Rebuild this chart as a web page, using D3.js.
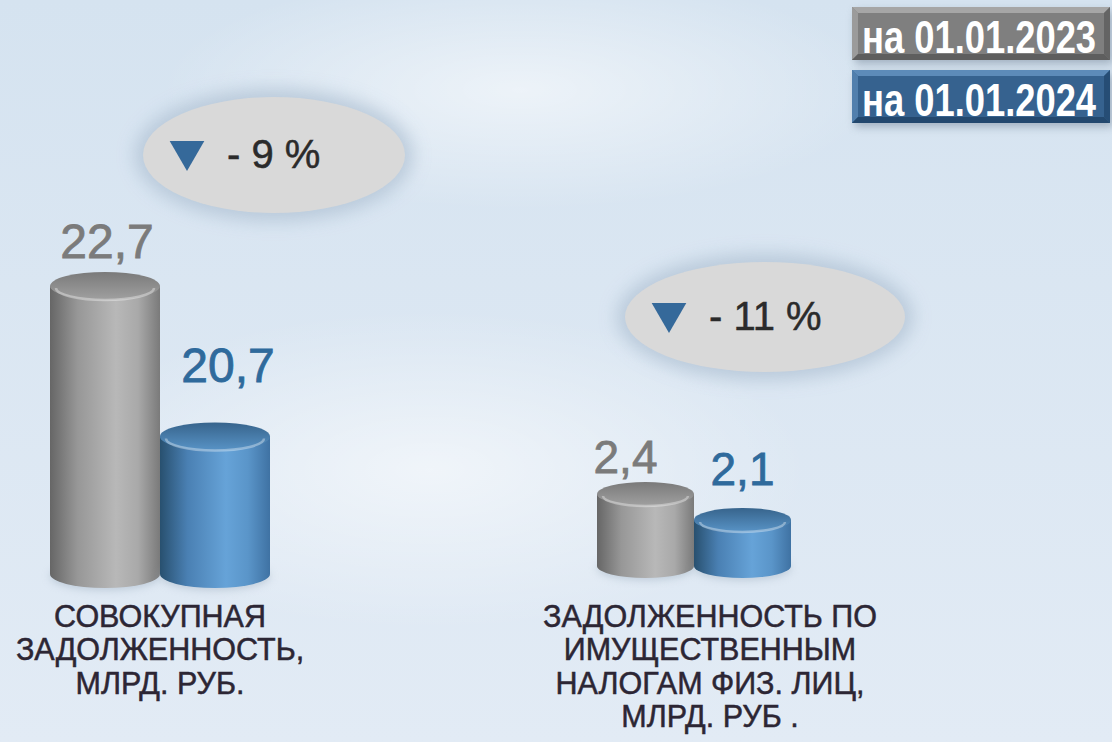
<!DOCTYPE html>
<html lang="ru">
<head>
  <meta charset="UTF-8">
  <title>Задолженность</title>
  <script src="https://d3js.org/d3.v7.min.js"></script>
</head>
<style>
  body { margin: 0; overflow: hidden; }
  text { font-family: "Liberation Sans", Arial, sans-serif; }
</style>
<body>
<svg id="chart" width="1112" height="742"></svg>

<script>
  // values
  const categories = [
    ["СОВОКУПНАЯ", "ЗАДОЛЖЕННОСТЬ,", "МЛРД. РУБ."],
    ["ЗАДОЛЖЕННОСТЬ ПО", "ИМУЩЕСТВЕННЫМ", "НАЛОГАМ ФИЗ. ЛИЦ,", "МЛРД. РУБ ."]
  ];
  const seriesNames = ["на 01.01.2023", "на 01.01.2024"];
  const values2023 = [22.7, 2.4];
  const values2024 = [20.7, 2.1];
  const changeLabels = ["- 9 %", "- 11 %"];
  // each group has its own truncated value axis
  const axisFloor = [18.5, 1.29];

  const width = 1112, height = 742;
  const svg = d3.select("#chart");
  const defs = svg.append("defs");

  // layout of the two groups
  const groups = [
    {cx: 160, half: 110, base: 588, top: 272, ry: 14, font: 48,
     bubble: {cx: 274, cy: 155, rx: 131, ry: 58},
     nudge: [[2, -14], [13, -40]], labelX: 160, labelY: 627},
    {cx: 694, half: 97, base: 578, top: 482, ry: 12, font: 46,
     bubble: {cx: 765, cy: 317, rx: 140, ry: 55},
     nudge: [[-20, -9], [0, -23]], labelX: 710, labelY: 627}
  ];

  // background
  let bg = defs.append("linearGradient").attr("id", "bg").attr("x1", 0).attr("y1", 0).attr("x2", 0).attr("y2", 1);
  bg.append("stop").attr("offset", "0%").attr("stop-color", "#d5e3f0");
  bg.append("stop").attr("offset", "100%").attr("stop-color", "#e2ebf5");
  let glow = defs.append("radialGradient").attr("id", "glow");
  glow.append("stop").attr("offset", "0%").attr("stop-color", "#ffffff").attr("stop-opacity", 0.55);
  glow.append("stop").attr("offset", "100%").attr("stop-color", "#ffffff").attr("stop-opacity", 0);
  svg.append("rect").attr("width", width).attr("height", height).attr("fill", "url(#bg)");
  svg.append("ellipse").attr("cx", 520).attr("cy", 90).attr("rx", 360).attr("ry", 120).attr("fill", "url(#glow)");
  svg.append("ellipse").attr("cx", 430).attr("cy", 470).attr("rx", 380).attr("ry", 160).attr("fill", "url(#glow)");

  // gradients for cylinders
  const palette = [
    {body: ["#666666", "#979797", "#b8b8b8", "#a9a9a9", "#7a7a7a"], cap: ["#7a7a7a", "#a0a0a0"], label: "#7b7b7b"},
    {body: ["#28506f", "#4a80b3", "#66a3d8", "#5a95c9", "#3f72a3"], cap: ["#37648c", "#5893c6"], label: "#2f6a9c"}
  ];
  palette.forEach((p, i) => {
    let g = defs.append("linearGradient").attr("id", "body" + i);
    [0, 25, 60, 80, 100].forEach((o, k) => g.append("stop").attr("offset", o + "%").attr("stop-color", p.body[k]));
    let c = defs.append("linearGradient").attr("id", "cap" + i).attr("x1", 0).attr("y1", 0).attr("x2", 0).attr("y2", 1);
    c.append("stop").attr("offset", "0%").attr("stop-color", p.cap[0]);
    c.append("stop").attr("offset", "100%").attr("stop-color", p.cap[1]);
  });

  let blur = defs.append("filter").attr("id", "blur").attr("x", "-30%").attr("y", "-50%").attr("width", "160%").attr("height", "200%");
  blur.append("feGaussianBlur").attr("stdDeviation", 9);
  let soft = defs.append("filter").attr("id", "soft").attr("x", "-30%").attr("y", "-30%").attr("width", "160%").attr("height", "160%");
  soft.append("feGaussianBlur").attr("stdDeviation", 4);

  // percent bubbles
  groups.forEach((g, i) => {
    let b = g.bubble;
    let bub = svg.append("g");
    bub.append("ellipse").attr("cx", b.cx).attr("cy", b.cy).attr("rx", b.rx + 8).attr("ry", b.ry + 8)
      .attr("fill", "#b3c4d6").attr("opacity", 0.85).attr("filter", "url(#blur)");
    bub.append("ellipse").attr("cx", b.cx).attr("cy", b.cy).attr("rx", b.rx).attr("ry", b.ry).attr("fill", "#d9d9d9");
    let tx = b.cx - b.rx + 28, ty = b.cy - 12;
    bub.append("path")
      .attr("d", d3.symbol().type(d3.symbolTriangle).size(520)())
      .attr("transform", `translate(${tx + 16},${ty + 8}) rotate(180)`)
      .attr("fill", "#35699a");
    bub.append("text").attr("x", tx + 56).attr("y", b.cy + 13)
      .attr("font-size", 40).attr("fill", "#2b2b2b")
      .attr("stroke", "#2b2b2b").attr("stroke-width", 0.5)
      .text(changeLabels[i]);
  });

  // cylinders
  groups.forEach((g, i) => {
    let y = d3.scaleLinear().domain([axisFloor[i], values2023[i]]).range([g.base, g.top]);
    let x = d3.scaleBand().domain(seriesNames).range([g.cx - g.half, g.cx + g.half]).padding(0);
    let vals = [values2023[i], values2024[i]];
    let ry = g.ry;
    vals.forEach((v, s) => {
      let x0 = x(seriesNames[s]), w = x.bandwidth(), rx = w / 2, mx = x0 + rx;
      let yt = y(v) + ry, yb = g.base - ry;
      let cyl = svg.append("g");
      cyl.append("ellipse").attr("cx", mx).attr("cy", yb + 2).attr("rx", rx).attr("ry", ry)
        .attr("fill", "#9aaabb").attr("opacity", 0.5).attr("filter", "url(#soft)");
      cyl.append("path")
        .attr("d", `M${x0},${yt} L${x0},${yb} A${rx},${ry} 0 0 0 ${x0 + w},${yb} L${x0 + w},${yt} Z`)
        .attr("fill", `url(#body${s})`);
      cyl.append("ellipse").attr("cx", mx).attr("cy", yt).attr("rx", rx).attr("ry", ry)
        .attr("fill", `url(#cap${s})`);
      // rim highlight
      cyl.append("path")
        .attr("d", `M${x0 + 6},${yt + 2} A${rx - 6},${ry - 2} 0 0 0 ${x0 + w - 6},${yt + 2}`)
        .attr("fill", "none").attr("stroke", "#ffffff").attr("stroke-opacity", 0.35).attr("stroke-width", 2.5);
      cyl.append("text")
        .attr("x", mx + g.nudge[s][0]).attr("y", y(v) + g.nudge[s][1])
        .attr("text-anchor", "middle").attr("font-size", g.font)
        .attr("fill", palette[s].label)
        .attr("stroke", palette[s].label).attr("stroke-width", 0.8)
        .text(v.toFixed(1).replace(".", ","));
    });
  });

  // category labels
  groups.forEach((g, i) => {
    let t = svg.append("text").attr("text-anchor", "middle").attr("font-size", 30.5)
      .attr("fill", "#2c2634").attr("stroke", "#2c2634").attr("stroke-width", 0.5);
    categories[i].forEach((line, k) => {
      t.append("tspan").attr("x", g.labelX).attr("y", g.labelY + k * 33.3).text(line);
    });
  });

  // legend boxes
  const legendFill = [
    {main: "#7f7f7f", light: "#a6a6a6", dark: "#5e5e5e"},
    {main: "#36628f", light: "#5d8bb9", dark: "#23486e"}
  ];
  seriesNames.forEach((name, s) => {
    let x0 = 852, y0 = 7 + s * 63, w = 258, h = 53, b = 6;
    let lg = svg.append("g");
    lg.append("rect").attr("x", x0 + 3).attr("y", y0 + 4).attr("width", w).attr("height", h)
      .attr("fill", "#7f8fa0").attr("opacity", 0.6).attr("filter", "url(#soft)");
    lg.append("rect").attr("x", x0).attr("y", y0).attr("width", w).attr("height", h).attr("fill", legendFill[s].main);
    lg.append("path").attr("d", `M${x0},${y0} L${x0 + w},${y0} L${x0 + w - b},${y0 + b} L${x0 + b},${y0 + b} Z`).attr("fill", legendFill[s].light);
    lg.append("path").attr("d", `M${x0},${y0} L${x0 + b},${y0 + b} L${x0 + b},${y0 + h - b} L${x0},${y0 + h} Z`).attr("fill", legendFill[s].light).attr("opacity", 0.7);
    lg.append("path").attr("d", `M${x0},${y0 + h} L${x0 + w},${y0 + h} L${x0 + w - b},${y0 + h - b} L${x0 + b},${y0 + h - b} Z`).attr("fill", legendFill[s].dark);
    lg.append("path").attr("d", `M${x0 + w},${y0} L${x0 + w - b},${y0 + b} L${x0 + w - b},${y0 + h - b} L${x0 + w},${y0 + h} Z`).attr("fill", legendFill[s].dark).attr("opacity", 0.8);
    // condensed bold label: squeeze horizontally to fit the box
    lg.append("text")
      .attr("transform", `translate(${x0 + 10},${y0 + 46}) scale(0.79,1)`)
      .attr("font-size", 46).attr("font-weight", "bold").attr("fill", "#ffffff")
      .text(name);
  });
</script>
</body>
</html>
